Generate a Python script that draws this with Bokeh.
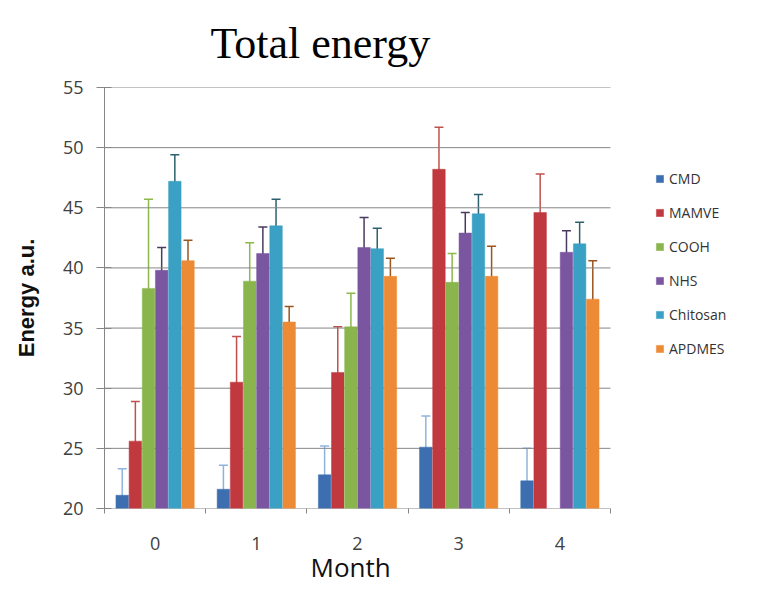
import numpy as np
from bokeh.plotting import figure
from bokeh.models import (ColumnDataSource, Whisker, TeeHead, Legend, LegendItem,
                          FixedTicker, Range1d, Title)
from bokeh.embed import file_html
from bokeh.resources import INLINE

months = ["0", "1", "2", "3", "4"]
series = ["CMD", "MAMVE", "COOH", "NHS", "Chitosan", "APDMES"]

cmd = [21.1, 21.6, 22.8, 25.1, 22.3]
cmd_err = [2.2, 2.0, 2.4, 2.6, 2.7]
mamve = [25.6, 30.5, 31.3, 48.2, 44.6]
mamve_err = [3.3, 3.8, 3.8, 3.5, 3.2]
cooh = [38.3, 38.9, 35.1, 38.8, float("nan")]
cooh_err = [7.4, 3.2, 2.8, 2.4, float("nan")]
nhs = [39.8, 41.2, 41.7, 42.9, 41.3]
nhs_err = [1.9, 2.2, 2.5, 1.7, 1.8]
chitosan = [47.2, 43.5, 41.6, 44.5, 42.0]
chitosan_err = [2.2, 2.2, 1.7, 1.6, 1.8]
apdmes = [40.6, 35.5, 39.3, 39.3, 37.4]
apdmes_err = [1.7, 1.3, 1.5, 2.5, 3.2]
y_ticks = [20, 25, 30, 35, 40, 45, 50, 55]

values = [cmd, mamve, cooh, nhs, chitosan, apdmes]
errors = [cmd_err, mamve_err, cooh_err, nhs_err, chitosan_err, apdmes_err]
colors = ["#3d6fb0", "#c0393e", "#8ab44c", "#7b56a0", "#3aa0c4", "#ec8a36"]
err_colors = ["#8fb4dc", "#c0504d", "#8db84a", "#4a3a5f", "#2e5f6e", "#9a5520"]

n = len(months)
bar_w = 0.13
offsets = [(-2.5 + i) * bar_w for i in range(len(series))]

# frame extends right to host the legend; the category area spans 0..n
frame_left, frame_right_cat, width = 104, 610, 744
x_end = n * (width - frame_left) / (frame_right_cat - frame_left)

p = figure(width=width, height=583, output_backend="svg", toolbar_location=None,
           x_range=Range1d(0, x_end), y_range=Range1d(20, 55),
           min_border_left=frame_left, min_border_right=0, min_border_top=87,
           min_border_bottom=75)
p.outline_line_color = None
p.background_fill_color = "white"
p.border_fill_color = "white"

p.title.text = "Total energy"
p.title.text_font = "Liberation Serif"
p.title.text_font_size = "44px"
p.title.text_font_style = "normal"
p.title.align = "left"
p.title.vertical_align = "top"
p.title.offset = 106
p.title.standoff = 36
p.title.text_color = "#000000"

# horizontal gridlines over the category area only
p.segment(x0=[0] * len(y_ticks), x1=[n] * len(y_ticks), y0=y_ticks, y1=y_ticks,
          line_color="#868686", line_width=1)

items = []
for i, name in enumerate(series):
    xs = [k + 0.5 + offsets[i] for k in range(n)]
    v = np.array(values[i], dtype=float)
    e = np.array(errors[i], dtype=float)
    src = ColumnDataSource(dict(x=xs, top=v, lo=v - e, hi=v + e))
    r = p.vbar(x="x", top="top", bottom=20, width=bar_w * 0.95, source=src,
               fill_color=colors[i], line_color=colors[i], line_width=0.5)
    w = Whisker(base="x", lower="lo", upper="hi", source=src,
                line_color=err_colors[i], line_width=1.5,
                upper_head=TeeHead(size=9, line_color=err_colors[i], line_width=1.5),
                lower_head=TeeHead(size=9, line_color=err_colors[i], line_width=1.5))
    p.add_layout(w)
    items.append(LegendItem(label=name, renderers=[r]))

legend = Legend(items=items, location=(551, 150), orientation="vertical",
                glyph_width=9, glyph_height=9, label_height=20, spacing=14,
                label_text_font="Open Sans", label_text_font_size="14px",
                label_text_color="#333333", background_fill_alpha=0,
                border_line_color=None, padding=0, margin=0, label_standoff=5)
p.add_layout(legend, "center")

# axes
p.xaxis.ticker = FixedTicker(ticks=[k + 0.5 for k in range(n)],
                             minor_ticks=list(range(n + 1)))
p.xaxis.major_label_overrides = {k + 0.5: m for k, m in enumerate(months)}
p.xaxis.major_tick_out = 0
p.xaxis.major_tick_in = 0
p.xaxis.minor_tick_out = 5
p.xaxis.minor_tick_in = 0
p.xaxis.major_label_standoff = 23
p.xaxis.major_label_text_font = "Open Sans"
p.xaxis.major_label_text_font_size = "18px"
p.xaxis.major_label_text_color = "#404040"
p.xaxis.axis_line_color = None
p.xaxis.minor_tick_line_color = "#868686"

month_title = Title(text="Month", align="left", offset=206, standoff=-12,
                    text_font="Open Sans", text_font_size="26px",
                    text_font_style="normal", text_color="#111111")
p.add_layout(month_title, "below")

p.yaxis.ticker = FixedTicker(ticks=y_ticks)
p.yaxis.major_tick_out = 8
p.yaxis.major_tick_in = 7
p.yaxis.minor_tick_line_color = None
p.yaxis.major_label_standoff = 13
p.yaxis.major_label_text_font = "Open Sans"
p.yaxis.major_label_text_font_size = "18px"
p.yaxis.major_label_text_color = "#404040"
p.yaxis.axis_label = "Energy a.u."
p.yaxis.axis_label_text_font = "Liberation Sans"
p.yaxis.axis_label_text_font_style = "bold"
p.yaxis.axis_label_text_font_size = "22px"
p.yaxis.axis_label_text_color = "#111111"
p.yaxis.axis_label_standoff = 21
p.yaxis.axis_line_color = "#868686"
p.yaxis.major_tick_line_color = "#868686"

p.xgrid.grid_line_color = None
p.ygrid.grid_line_color = None

open("out.html", "w").write(file_html(p, INLINE))
